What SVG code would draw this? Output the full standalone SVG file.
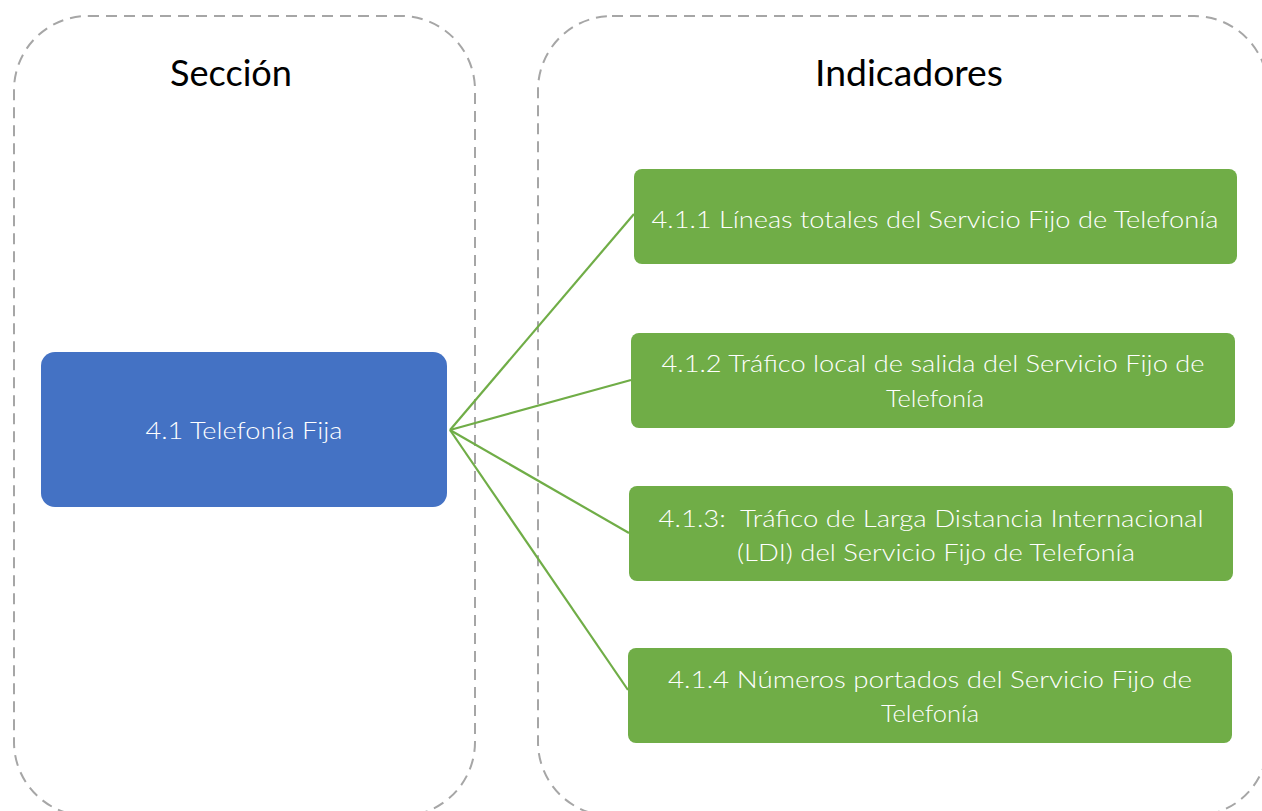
<svg xmlns="http://www.w3.org/2000/svg" width="1262" height="811" viewBox="0 0 1262 811">
<style>
.frame{fill:none;stroke:#A6A6A6;stroke-width:2;stroke-dasharray:11 7}
.title{font-family:"Lato","Open Sans","Liberation Sans",sans-serif;font-size:36px;fill:#000;text-anchor:middle}
.lbl{font-family:"Lato","Open Sans","Liberation Sans",sans-serif;font-weight:300;font-size:24px;fill:#fff;text-anchor:middle;white-space:pre}
.green{fill:#70AD47}
.conn{stroke:#70AD47;stroke-width:2.2;fill:none}
</style>
<g id="frame-seccion">
<rect class="frame" x="14" y="16" width="461" height="800" rx="74" ry="74"/>
<text class="title" x="231" y="86" textLength="122" lengthAdjust="spacingAndGlyphs">Sección</text>
</g>
<g id="frame-indicadores">
<rect class="frame" x="538" y="16" width="730" height="800" rx="74" ry="74"/>
<text class="title" x="909" y="86" textLength="188" lengthAdjust="spacingAndGlyphs">Indicadores</text>
</g>
<g id="connectors">
<line class="conn" x1="450" y1="430" x2="634" y2="214"/>
<line class="conn" x1="450" y1="430" x2="631" y2="380"/>
<line class="conn" x1="450" y1="430" x2="629" y2="533"/>
<line class="conn" x1="450" y1="430" x2="628" y2="690"/>
</g>
<g id="node-41">
<rect x="41" y="352" width="406" height="155" rx="14" fill="#4472C4"/>
<text class="lbl" x="244" y="439" textLength="197" lengthAdjust="spacingAndGlyphs">4.1 Telefonía Fija</text>
</g>
<g id="node-411">
<rect class="green" x="634" y="169" width="603" height="95" rx="8"/>
<text class="lbl" x="935" y="228" textLength="567" lengthAdjust="spacingAndGlyphs">4.1.1 Líneas totales del Servicio Fijo de Telefonía</text>
</g>
<g id="node-412">
<rect class="green" x="631" y="333" width="604" height="95" rx="8"/>
<text class="lbl" x="933" y="372" textLength="543" lengthAdjust="spacingAndGlyphs">4.1.2 Tráfico local de salida del Servicio Fijo de</text>
<text class="lbl" x="935" y="407" textLength="98" lengthAdjust="spacingAndGlyphs">Telefonía</text>
</g>
<g id="node-413">
<rect class="green" x="629" y="486" width="604" height="95" rx="8"/>
<text class="lbl" x="931" y="527" textLength="545" lengthAdjust="spacingAndGlyphs" xml:space="preserve">4.1.3:  Tráfico de Larga Distancia Internacional</text>
<text class="lbl" x="936" y="561" textLength="398" lengthAdjust="spacingAndGlyphs">(LDI) del Servicio Fijo de Telefonía</text>
</g>
<g id="node-414">
<rect class="green" x="628" y="648" width="604" height="95" rx="8"/>
<text class="lbl" x="930" y="688" textLength="524" lengthAdjust="spacingAndGlyphs">4.1.4 Números portados del Servicio Fijo de</text>
<text class="lbl" x="930" y="722" textLength="98" lengthAdjust="spacingAndGlyphs">Telefonía</text>
</g>
</svg>
